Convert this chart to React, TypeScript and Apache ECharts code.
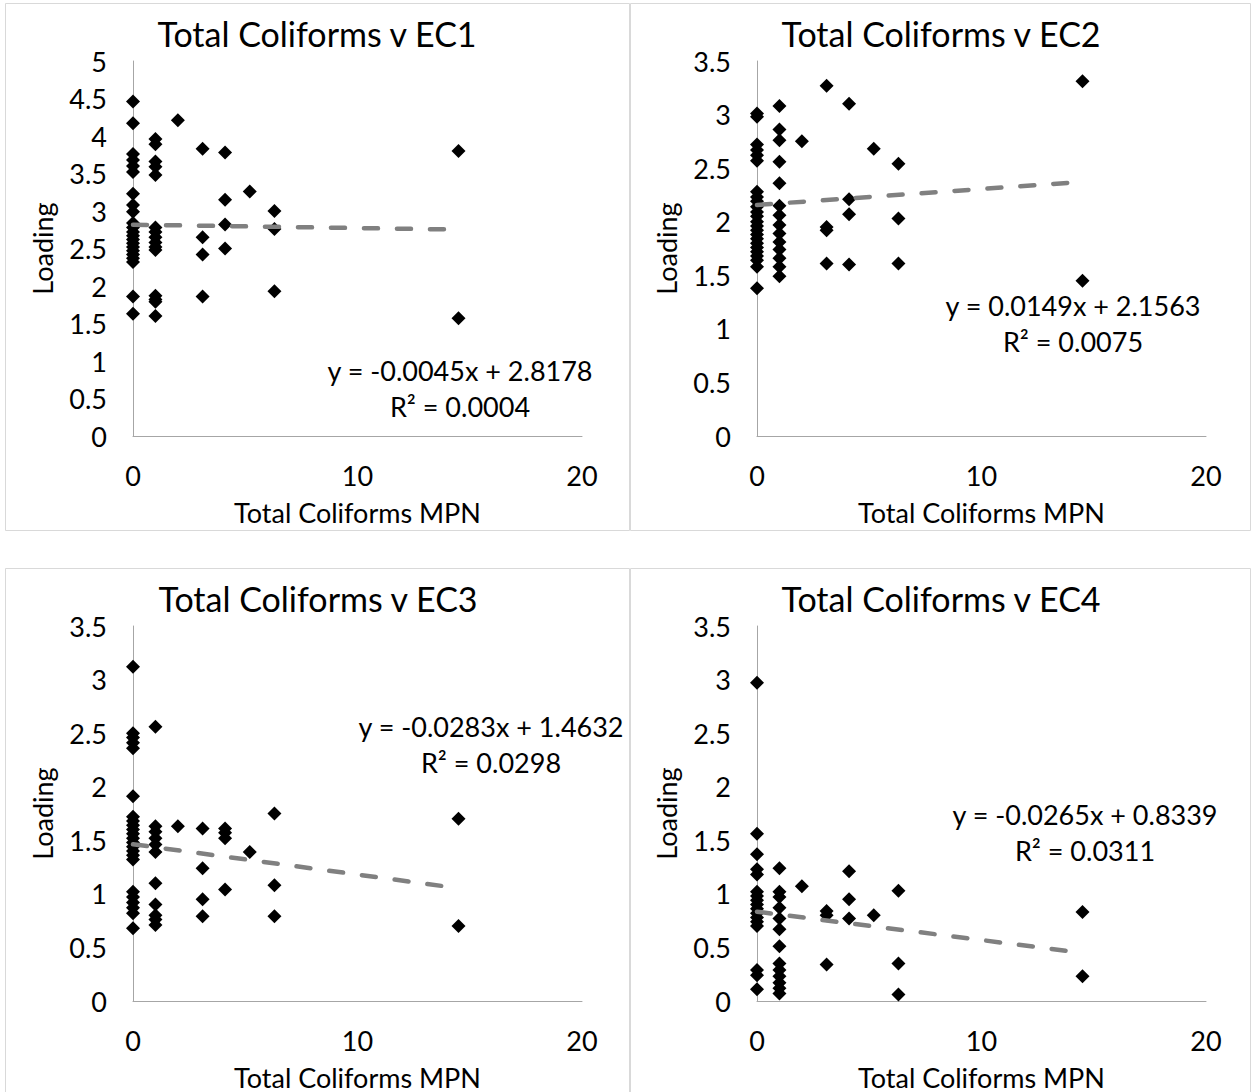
import React, { useEffect, useRef } from "react";
import * as echarts from "echarts";

const FONT = "Lato";

const panelTitles = ["Total Coliforms v EC1", "Total Coliforms v EC2", "Total Coliforms v EC3", "Total Coliforms v EC4"];
const xAxisTitle = "Total Coliforms MPN";
const yAxisTitle = "Loading";
const yMaxes = [5, 3.5, 3.5, 3.5];

// trendline coefficients [slope, intercept] and R²
const slopes = [-0.0045, 0.0149, -0.0283, -0.0265];
const intercepts = [2.8178, 2.1563, 1.4632, 0.8339];
const rSquared = ["0.0004", "0.0075", "0.0298", "0.0311"];
const equations = [
  "y = -0.0045x + 2.8178",
  "y = 0.0149x + 2.1563",
  "y = -0.0283x + 1.4632",
  "y = -0.0265x + 0.8339",
];
const trendXRange = [0, 14.5];

const ec1Points: [number, number][] = [
  [0, 4.46], [0, 4.17], [0, 3.76], [0, 3.68], [0, 3.6], [0, 3.52], [0, 3.23], [0, 3.08], [0, 2.99], [0, 2.84],
  [0, 2.78], [0, 2.72], [0, 2.67], [0, 2.62], [0, 2.57], [0, 2.52], [0, 2.47], [0, 2.42], [0, 2.37], [0, 2.32],
  [0, 1.86], [0, 1.63],
  [1, 3.96], [1, 3.89], [1, 3.66], [1, 3.59], [1, 3.48], [1, 2.78], [1, 2.72], [1, 2.65], [1, 2.58], [1, 2.52],
  [1, 2.48], [1, 1.87], [1, 1.82], [1, 1.79], [1, 1.6],
  [2, 4.21],
  [3.1, 3.83], [3.1, 2.65], [3.1, 2.42], [3.1, 1.86],
  [4.1, 3.78], [4.1, 3.15], [4.1, 2.82], [4.1, 2.5],
  [5.2, 3.26],
  [6.3, 3.0], [6.3, 2.76], [6.3, 1.93],
  [14.5, 3.8], [14.5, 1.57],
];

const ec2Points: [number, number][] = [
  [0, 3.01], [0, 2.98], [0, 2.72], [0, 2.67], [0, 2.62], [0, 2.57], [0, 2.28], [0, 2.23], [0, 2.19], [0, 2.14],
  [0, 2.09], [0, 2.05], [0, 2.0], [0, 1.96], [0, 1.92], [0, 1.88], [0, 1.84], [0, 1.8], [0, 1.76], [0, 1.72],
  [0, 1.68], [0, 1.64], [0, 1.58], [0, 1.38],
  [1, 3.08], [1, 2.86], [1, 2.76], [1, 2.56], [1, 2.36], [1, 2.15], [1, 2.06], [1, 1.97], [1, 1.89], [1, 1.81],
  [1, 1.74], [1, 1.66], [1, 1.58], [1, 1.49],
  [2, 2.75],
  [3.1, 3.27], [3.1, 1.95], [3.1, 1.92], [3.1, 1.61],
  [4.1, 3.1], [4.1, 2.21], [4.1, 2.07], [4.1, 1.6],
  [5.2, 2.68],
  [6.3, 2.54], [6.3, 2.03], [6.3, 1.61],
  [14.5, 3.31], [14.5, 1.45],
];

const ec3Points: [number, number][] = [
  [0, 3.12], [0, 2.5], [0, 2.46], [0, 2.41], [0, 2.36], [0, 1.91], [0, 1.72], [0, 1.68], [0, 1.64], [0, 1.6],
  [0, 1.56], [0, 1.52], [0, 1.48], [0, 1.44], [0, 1.4], [0, 1.36], [0, 1.32], [0, 1.02], [0, 0.97], [0, 0.92],
  [0, 0.87], [0, 0.82], [0, 0.68],
  [1, 2.56], [1, 1.63], [1, 1.58], [1, 1.52], [1, 1.46], [1, 1.39], [1, 1.1], [1, 0.9], [1, 0.8], [1, 0.76],
  [1, 0.71],
  [2, 1.63],
  [3.1, 1.61], [3.1, 1.24], [3.1, 0.95], [3.1, 0.79],
  [4.1, 1.61], [4.1, 1.57], [4.1, 1.52], [4.1, 1.04],
  [5.2, 1.39],
  [6.3, 1.75], [6.3, 1.08], [6.3, 0.79],
  [14.5, 1.7], [14.5, 0.7],
];

const ec4Points: [number, number][] = [
  [0, 2.97], [0, 1.56], [0, 1.37], [0, 1.23], [0, 1.18], [0, 1.02], [0, 0.98], [0, 0.94], [0, 0.9], [0, 0.86],
  [0, 0.82], [0, 0.78], [0, 0.74], [0, 0.7], [0, 0.29], [0, 0.24], [0, 0.11],
  [1, 1.24], [1, 1.02], [1, 0.97], [1, 0.87], [1, 0.77], [1, 0.67], [1, 0.51], [1, 0.35], [1, 0.29], [1, 0.23],
  [1, 0.17], [1, 0.12], [1, 0.07],
  [2, 1.07],
  [3.1, 0.84], [3.1, 0.8], [3.1, 0.34],
  [4.1, 1.21], [4.1, 0.95], [4.1, 0.77],
  [5.2, 0.8],
  [6.3, 1.03], [6.3, 0.35], [6.3, 0.06],
  [14.5, 0.83], [14.5, 0.23],
];

const allPoints = [ec1Points, ec2Points, ec3Points, ec4Points];

// layout
const gridLefts = [133, 757, 133, 757];
const gridTops = [61, 61, 626, 626];
const GRID_W = 449;
const GRID_H = 375;
const panelRects = [
  { x: 5.5, y: 3.5, w: 624, h: 527 },
  { x: 630.5, y: 3.5, w: 620, h: 527 },
  { x: 5.5, y: 568.5, w: 624, h: 530 },
  { x: 630.5, y: 568.5, w: 620, h: 530 },
];
const titleCenters = [[317, 33], [941, 33], [318, 598], [941, 598]];
const eqCenters = [[460, 370], [1073, 305], [491, 726], [1085, 814]];

export default function App() {
  const ref = useRef<HTMLDivElement>(null);
  useEffect(() => {
    if (!ref.current) return;
    const chart = echarts.init(ref.current, undefined, { renderer: "svg" });
    const axisColor = "#a6a6a6";
    const grids = gridLefts.map((l, i) => ({ left: l, top: gridTops[i], width: GRID_W, height: GRID_H, containLabel: false }));
    const xAxes = grids.map((_, i) => ({
      type: "value",
      gridIndex: i,
      min: 0,
      max: 20,
      interval: 10,
      axisLine: { show: true, onZero: false, lineStyle: { color: axisColor, width: 1 } },
      axisTick: { show: false },
      splitLine: { show: false },
      axisLabel: { color: "#000", fontFamily: FONT, fontSize: 27, margin: 26 },
    }));
    const yAxes = grids.map((_, i) => ({
      type: "value",
      gridIndex: i,
      min: 0,
      max: yMaxes[i],
      interval: 0.5,
      axisLine: { show: true, onZero: false, lineStyle: { color: axisColor, width: 1 } },
      axisTick: { show: false },
      splitLine: { show: false },
      axisLabel: { color: "#000", fontFamily: FONT, fontSize: 27, margin: 26 },
    }));
    const series: any[] = [];
    allPoints.forEach((pts, i) => {
      series.push({
        type: "scatter",
        xAxisIndex: i,
        yAxisIndex: i,
        data: pts,
        symbol: "diamond",
        symbolSize: 14,
        itemStyle: { color: "#000", opacity: 1 },
        z: 2,
      });
      series.push({
        type: "line",
        xAxisIndex: i,
        yAxisIndex: i,
        data: trendXRange.map((x) => [x, slopes[i] * x + intercepts[i]]),
        showSymbol: false,
        symbol: "none",
        lineStyle: { color: "#808080", width: 4.5, type: [14, 19], cap: "round" },
        z: 3,
      });
    });
    const graphic: any[] = [];
    panelRects.forEach((r) => {
      graphic.push({
        type: "rect",
        shape: { x: r.x, y: r.y, width: r.w, height: r.h },
        style: { fill: "none", stroke: "#d9d9d9", lineWidth: 1 },
        z: 0,
      });
    });
    panelTitles.forEach((t, i) => {
      graphic.push({
        type: "text",
        x: titleCenters[i][0],
        y: titleCenters[i][1],
        style: { text: t, fill: "#000", font: `34px ${FONT}`, align: "center", verticalAlign: "middle" },
      });
    });
    grids.forEach((g, i) => {
      graphic.push({
        type: "text",
        x: g.left + GRID_W / 2,
        y: g.top + GRID_H + 76,
        style: { text: xAxisTitle, fill: "#000", font: `27px ${FONT}`, align: "center", verticalAlign: "middle" },
      });
      graphic.push({
        type: "text",
        x: g.left - 91,
        y: g.top + GRID_H / 2,
        rotation: Math.PI / 2,
        style: { text: yAxisTitle, fill: "#000", font: `27px ${FONT}`, align: "center", verticalAlign: "middle" },
      });
      graphic.push({
        type: "text",
        x: eqCenters[i][0],
        y: eqCenters[i][1] - 18,
        style: {
          text: `${equations[i]}\nR² = ${rSquared[i]}`,
          fill: "#000",
          font: `27px ${FONT}`,
          align: "center",
          verticalAlign: "top",
          lineHeight: 36,
        },
      });
    });
    chart.setOption({
      animation: false,
      backgroundColor: "#fff",
      grid: grids,
      xAxis: xAxes,
      yAxis: yAxes,
      series,
      graphic,
    });
    return () => chart.dispose();
  }, []);
  return <div ref={ref} style={{ position: "fixed", left: 0, top: 0, width: 1251, height: 1092 }} />;
}
